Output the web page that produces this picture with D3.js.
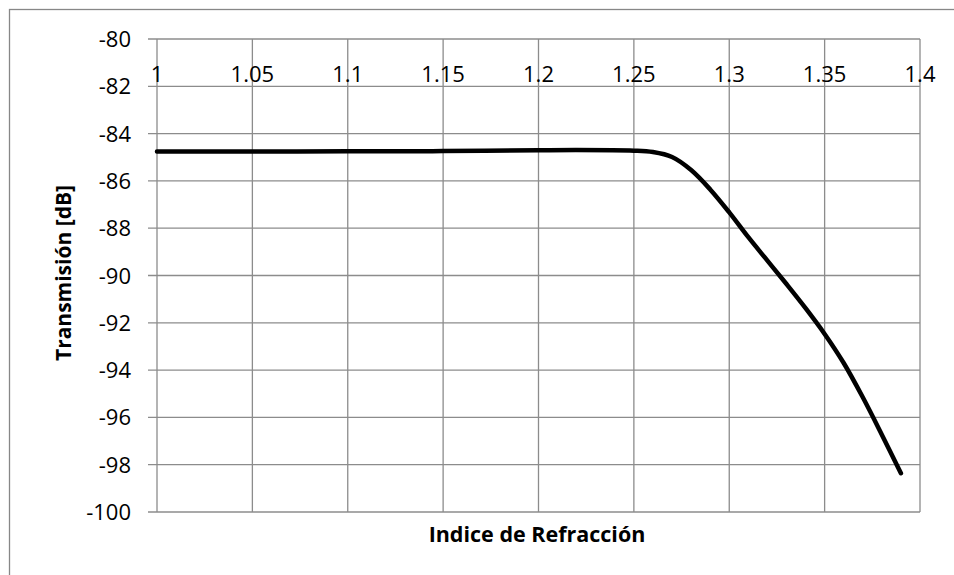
<!DOCTYPE html>
<html>
<head>
<meta charset="utf-8">
<script src="https://cdn.jsdelivr.net/npm/d3@7"></script>
<style>
  body { margin: 0; background: #fff; }
  svg { display: block; font-family: "Open Sans", sans-serif; }
</style>
</head>
<body>
<div id="chart"></div>
<script>
// data
const indice = [1.00, 1.05, 1.10, 1.15, 1.20, 1.25, 1.26, 1.27, 1.28, 1.29, 1.30,
                1.31, 1.32, 1.33, 1.34, 1.35, 1.36, 1.37, 1.38, 1.39];
const transmision = [-84.76, -84.76, -84.75, -84.74, -84.70, -84.72, -84.78, -84.99, -85.54, -86.36, -87.33,
                     -88.38, -89.37, -90.36, -91.38, -92.47, -93.70, -95.15, -96.73, -98.36];
const xTicks = [1, 1.05, 1.1, 1.15, 1.2, 1.25, 1.3, 1.35, 1.4];
const yTicks = [-80, -82, -84, -86, -88, -90, -92, -94, -96, -98, -100];

const W = 954, H = 575;
const margin = { top: 39, right: 34, bottom: 63, left: 157 };

const svg = d3.select("#chart").append("svg")
  .attr("width", W)
  .attr("height", H);

// outer chart border (cut off at right and bottom in the original)
svg.append("rect")
  .attr("x", 9.5).attr("y", 9.5)
  .attr("width", 1200).attr("height", 1200)
  .attr("fill", "none")
  .attr("stroke", "#878787")
  .attr("stroke-width", 1.3);

const x = d3.scaleLinear().domain([1, 1.4]).range([margin.left, W - margin.right]);
const y = d3.scaleLinear().domain([-100, -80]).range([H - margin.bottom, margin.top]);

const grid = svg.append("g").attr("stroke", "#8c8c8c").attr("stroke-width", 1.3);

// horizontal grid lines, with tick stub to the left
grid.selectAll(".hl")
  .data(yTicks)
  .enter().append("line")
  .attr("x1", margin.left - 9)
  .attr("x2", x(1.4))
  .attr("y1", d => y(d))
  .attr("y2", d => y(d));

// vertical grid lines
grid.selectAll(".vl")
  .data(xTicks)
  .enter().append("line")
  .attr("x1", d => x(d))
  .attr("x2", d => x(d))
  .attr("y1", y(-80))
  .attr("y2", y(-100));

// y tick labels
svg.append("g").selectAll("text")
  .data(yTicks)
  .enter().append("text")
  .attr("x", margin.left - 26)
  .attr("y", d => y(d) + 8)
  .attr("text-anchor", "end")
  .attr("font-size", 22)
  .attr("fill", "#000")
  .text(d => d);

// x tick labels (sit just under the top grid line)
svg.append("g").selectAll("text")
  .data(xTicks)
  .enter().append("text")
  .attr("x", d => x(d))
  .attr("y", 82)
  .attr("text-anchor", "middle")
  .attr("font-size", 22)
  .attr("fill", "#000")
  .text(d => d);

// the curve
const pts = indice.map((v, i) => [v, transmision[i]]);
const line = d3.line()
  .x(d => x(d[0]))
  .y(d => y(d[1]))
  .curve(d3.curveCatmullRom.alpha(0.5));

svg.append("path")
  .datum(pts)
  .attr("d", line)
  .attr("fill", "none")
  .attr("stroke", "#000")
  .attr("stroke-width", 4.5)
  .attr("stroke-linecap", "round")
  .attr("stroke-linejoin", "round");

// axis titles
svg.append("text")
  .attr("x", 537)
  .attr("y", 542)
  .attr("text-anchor", "middle")
  .attr("font-size", 21.5)
  .attr("font-weight", "bold")
  .text("Indice de Refracción");

svg.append("text")
  .attr("transform", "translate(71," + 273 + ") rotate(-90)")
  .attr("text-anchor", "middle")
  .attr("font-size", 21)
  .attr("font-weight", "bold")
  .text("Transmisión [dB]");
</script>
</body>
</html>
